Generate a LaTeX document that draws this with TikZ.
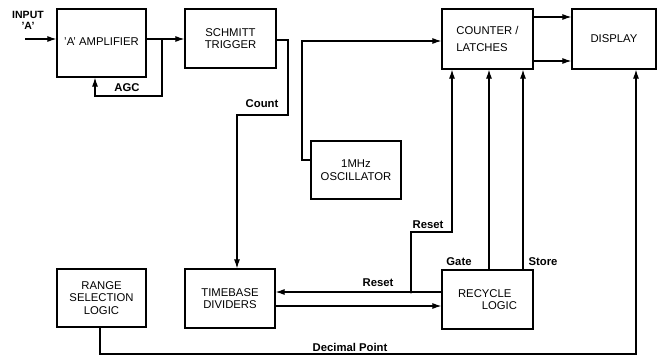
\documentclass[tikz,border=0pt]{standalone}
\usepackage{fontspec}
\setmainfont{Liberation Sans}
\usetikzlibrary{arrows.meta}
\begin{document}
\begin{tikzpicture}[x=1pt,y=-1pt,
  blk/.style={draw,line width=1.2pt,inner sep=0pt,font=\fontsize{11.3}{12.5}\selectfont,align=center},
  lab/.style={font=\fontsize{11.3}{12}\selectfont\bfseries,inner sep=1pt},
  wire/.style={line width=1.1pt},
  arr/.style={wire,-{Latex[length=9pt,width=6pt]}}]
\useasboundingbox (0,0) rectangle (659,357);
% blocks
\node[blk,minimum width=89pt,minimum height=68pt] (amp) at (101.5,43) {\raisebox{3pt}{'A' AMPLIFIER}};
\node[blk,minimum width=91pt,minimum height=59pt] (sch) at (230.5,38.5) {SCHMITT\\TRIGGER};
\node[blk,minimum width=91pt,minimum height=60pt,align=left] (cnt) at (487.5,39) {COUNTER /\\[5pt]LATCHES};
\node[blk,minimum width=84pt,minimum height=60pt] (dsp) at (614,39) {DISPLAY};
\node[blk,minimum width=90pt,minimum height=58pt] (osc) at (356,170) {1MHz\\OSCILLATOR};
\node[blk,minimum width=89pt,minimum height=58pt] (rng) at (101.5,298) {RANGE\\SELECTION\\LOGIC};
\node[blk,minimum width=90pt,minimum height=59pt] (tb) at (230,298.5) {TIMEBASE\\DIVIDERS};
\node[blk,minimum width=91pt,minimum height=59pt,align=left] (rec) at (487.5,299.5) {RECYCLE\\\hspace*{2.1em}LOGIC};
% coordinates
\coordinate (in) at (25,39);
\coordinate (a1) at (162,39);
\coordinate (agc) at (95,96);
\coordinate (c1) at (288,40);
\coordinate (c2) at (237,115);
\coordinate (o1) at (302,160);
\coordinate (o2) at (302,41);
\coordinate (d1) at (0,17);
\coordinate (d2) at (0,61);
\coordinate (j) at (411,292);
\coordinate (r1) at (452,232);
\coordinate (g) at (489,0);
\coordinate (s) at (523,0);
\coordinate (t2) at (0,306);
\coordinate (dp1) at (100,354);
\coordinate (dp2) at (636,354);
% connectors
\draw[arr] (in) -- (in -| amp.west);
\draw[arr] (a1 -| amp.east) -- (a1 -| sch.west);
\draw[arr] (a1) |- (agc) -- (agc |- amp.south);
\draw[arr] (c1 -| sch.east) -- (c1) |- (c2) -- (c2 |- tb.north);
\draw[arr] (o1 -| osc.west) -- (o1) -- (o2) -- (o2 -| cnt.west);
\draw[arr] (d1 -| cnt.east) -- (d1 -| dsp.west);
\draw[arr] (d2 -| cnt.east) -- (d2 -| dsp.west);
\draw[arr] (j -| rec.west) -- (j -| tb.east);
\draw[arr] (t2 -| tb.east) -- (t2 -| rec.west);
\draw[arr] (j) |- (r1) -- (r1 |- cnt.south);
\fill (j) circle (1.6pt);
\draw[arr] (g |- rec.north) -- (g |- cnt.south);
\draw[arr] (s |- rec.north) -- (s |- cnt.south);
\draw[arr] (rng.south -| dp1) -- (dp1) -- (dp2) -- (dp2 |- dsp.south);
% labels
\node[lab,align=center,font=\fontsize{10.5}{11}\selectfont\bfseries] (inl) at (28,20) {INPUT\\'A'};
\node[lab] (agcl) at (127,88) {AGC};
\node[lab] (cntl) at (262,104) {Count};
\node[lab] (rs1) at (428,225) {Reset};
\node[lab] (gtl) at (459,262) {Gate};
\node[lab] (stl) at (543,262) {Store};
\node[lab] (rs2) at (378,283) {Reset};
\node[lab] (dpl) at (350,347) {Decimal Point};
\end{tikzpicture}
\end{document}
